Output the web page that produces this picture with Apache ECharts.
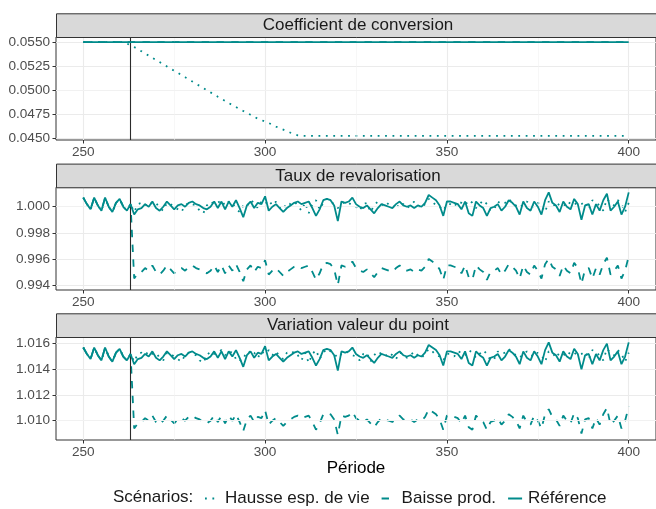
<!DOCTYPE html>
<html>
<head>
<meta charset="utf-8">
<script src="https://cdn.jsdelivr.net/npm/echarts@6/dist/echarts.min.js"></script>
<style>
html,body{margin:0;padding:0;background:#fff;}
#chart{width:656px;height:509px;}
</style>
</head>
<body>
<div id="chart"></div>
<script>
// ---------------- DATA ----------------
const startPeriod = 250; // periods 250..400, one value per period
const xTicks = [250, 300, 350, 400];
const xMinor = [275, 325, 375];
const shockPeriod = 263;

const seriesNames = ['Hausse esp. de vie', 'Baisse prod.', 'Référence'];
const panelTitles = ['Coefficient de conversion', 'Taux de revalorisation', 'Variation valeur du point'];

// Panel 1 : Coefficient de conversion
const coefRef = [
0.0550,0.0550,0.0550,0.0550,0.0550,0.0550,0.0550,0.0550,0.0550,0.0550,
0.0550,0.0550,0.0550,0.0550,0.0550,0.0550,0.0550,0.0550,0.0550,0.0550,
0.0550,0.0550,0.0550,0.0550,0.0550,0.0550,0.0550,0.0550,0.0550,0.0550,
0.0550,0.0550,0.0550,0.0550,0.0550,0.0550,0.0550,0.0550,0.0550,0.0550,
0.0550,0.0550,0.0550,0.0550,0.0550,0.0550,0.0550,0.0550,0.0550,0.0550,
0.0550,0.0550,0.0550,0.0550,0.0550,0.0550,0.0550,0.0550,0.0550,0.0550,
0.0550,0.0550,0.0550,0.0550,0.0550,0.0550,0.0550,0.0550,0.0550,0.0550,
0.0550,0.0550,0.0550,0.0550,0.0550,0.0550,0.0550,0.0550,0.0550,0.0550,
0.0550,0.0550,0.0550,0.0550,0.0550,0.0550,0.0550,0.0550,0.0550,0.0550,
0.0550,0.0550,0.0550,0.0550,0.0550,0.0550,0.0550,0.0550,0.0550,0.0550,
0.0550,0.0550,0.0550,0.0550,0.0550,0.0550,0.0550,0.0550,0.0550,0.0550,
0.0550,0.0550,0.0550,0.0550,0.0550,0.0550,0.0550,0.0550,0.0550,0.0550,
0.0550,0.0550,0.0550,0.0550,0.0550,0.0550,0.0550,0.0550,0.0550,0.0550,
0.0550,0.0550,0.0550,0.0550,0.0550,0.0550,0.0550,0.0550,0.0550,0.0550,
0.0550,0.0550,0.0550,0.0550,0.0550,0.0550,0.0550,0.0550,0.0550,0.0550,
0.0550];
const coefBaisse = [
0.0550,0.0550,0.0550,0.0550,0.0550,0.0550,0.0550,0.0550,0.0550,0.0550,
0.0550,0.0550,0.0550,0.0550,0.0550,0.0550,0.0550,0.0550,0.0550,0.0550,
0.0550,0.0550,0.0550,0.0550,0.0550,0.0550,0.0550,0.0550,0.0550,0.0550,
0.0550,0.0550,0.0550,0.0550,0.0550,0.0550,0.0550,0.0550,0.0550,0.0550,
0.0550,0.0550,0.0550,0.0550,0.0550,0.0550,0.0550,0.0550,0.0550,0.0550,
0.0550,0.0550,0.0550,0.0550,0.0550,0.0550,0.0550,0.0550,0.0550,0.0550,
0.0550,0.0550,0.0550,0.0550,0.0550,0.0550,0.0550,0.0550,0.0550,0.0550,
0.0550,0.0550,0.0550,0.0550,0.0550,0.0550,0.0550,0.0550,0.0550,0.0550,
0.0550,0.0550,0.0550,0.0550,0.0550,0.0550,0.0550,0.0550,0.0550,0.0550,
0.0550,0.0550,0.0550,0.0550,0.0550,0.0550,0.0550,0.0550,0.0550,0.0550,
0.0550,0.0550,0.0550,0.0550,0.0550,0.0550,0.0550,0.0550,0.0550,0.0550,
0.0550,0.0550,0.0550,0.0550,0.0550,0.0550,0.0550,0.0550,0.0550,0.0550,
0.0550,0.0550,0.0550,0.0550,0.0550,0.0550,0.0550,0.0550,0.0550,0.0550,
0.0550,0.0550,0.0550,0.0550,0.0550,0.0550,0.0550,0.0550,0.0550,0.0550,
0.0550,0.0550,0.0550,0.0550,0.0550,0.0550,0.0550,0.0550,0.0550,0.0550,
0.0550];
const coefHausse = [
0.0550,0.0550,0.0550,0.0550,0.0550,0.0550,0.0550,0.0550,0.0550,0.0550,
0.0550,0.0550,0.05485,0.05467,0.05449,0.05427,0.05405,0.05382,0.05360,0.05337,
0.05315,0.05293,0.05270,0.05248,0.05225,0.05203,0.05181,0.05158,0.05136,0.05113,
0.05091,0.05069,0.05046,0.05024,0.05001,0.04979,0.04957,0.04934,0.04912,0.04890,
0.04867,0.04848,0.04827,0.04805,0.04786,0.04767,0.04746,0.04725,0.04706,0.04691,
0.04676,0.04661,0.04643,0.04624,0.04606,0.04592,0.04577,0.04560,0.04544,0.04533,
0.04529,0.04528,0.04528,0.04528,0.04528,0.04528,0.04528,0.04528,0.04528,0.04528,
0.04528,0.04528,0.04528,0.04528,0.04528,0.04528,0.04528,0.04528,0.04528,0.04528,
0.04528,0.04528,0.04528,0.04528,0.04528,0.04528,0.04528,0.04528,0.04528,0.04528,
0.04528,0.04528,0.04528,0.04528,0.04528,0.04528,0.04528,0.04528,0.04528,0.04528,
0.04528,0.04528,0.04528,0.04528,0.04528,0.04528,0.04528,0.04528,0.04528,0.04528,
0.04528,0.04528,0.04528,0.04528,0.04528,0.04528,0.04528,0.04528,0.04528,0.04528,
0.04528,0.04528,0.04528,0.04528,0.04528,0.04528,0.04528,0.04528,0.04528,0.04528,
0.04528,0.04528,0.04528,0.04528,0.04528,0.04528,0.04528,0.04528,0.04528,0.04528,
0.04528,0.04528,0.04528,0.04528,0.04528,0.04528,0.04528,0.04528,0.04528,0.04528,
0.04528];

// Panel 2 : Taux de revalorisation
const tauxRef = [
1.0007,1.0002,0.9998,1.0007,1.0001,0.9997,1.0007,1.0000,0.9996,1.0003,
1.0006,1.0000,0.9997,1.0002,0.9994,0.9998,0.9999,1.0002,1.0000,1.0004,
0.9999,0.9997,1.0000,1.0004,1.0001,0.9998,1.0001,1.0002,1.0000,1.0003,
1.0004,1.0002,1.0001,0.9999,0.9998,1.0000,1.0004,0.9999,1.0004,0.9998,
1.0004,1.0000,1.0005,0.9999,0.9992,1.0001,1.0004,0.9999,1.0003,1.0002,
1.0008,0.9997,1.0000,1.0002,0.9999,0.9996,0.9999,1.0001,1.0003,1.0004,
1.0002,1.0003,1.0004,0.9999,0.9993,0.9998,1.0005,1.0006,1.0005,1.0001,
0.9989,1.0004,1.0003,1.0004,1.0007,1.0002,1.0000,0.9999,1.0001,0.9998,
0.9995,0.9999,1.0002,1.0001,1.0000,0.9999,1.0002,1.0004,1.0001,1.0000,
1.0001,0.9999,1.0001,1.0000,1.0003,1.0009,1.0007,1.0005,1.0001,0.9993,
1.0004,1.0004,1.0003,1.0002,0.9998,1.0004,0.9995,0.9993,1.0004,1.0001,
0.9999,0.9993,0.9999,1.0000,1.0002,0.9997,1.0000,1.0005,1.0003,1.0000,
0.9994,1.0004,0.9999,0.9997,1.0004,1.0000,0.9994,1.0005,1.0011,1.0003,
1.0001,0.9996,1.0004,1.0000,0.9998,1.0006,1.0002,0.9990,1.0001,1.0002,
0.9994,1.0002,0.9997,1.0005,1.0010,0.9997,1.0000,1.0004,0.9994,1.0000,
1.0011];
const tauxBaisse = [
1.0007,1.0002,0.9998,1.0007,1.0001,0.9997,1.0007,1.0000,0.9996,1.0003,
1.0006,1.0000,0.9997,1.0002,0.9945,0.9949,0.9950,0.9953,0.9951,0.9955,
0.9950,0.9948,0.9951,0.9955,0.9952,0.9949,0.9952,0.9953,0.9951,0.9954,
0.9955,0.9953,0.9952,0.9950,0.9949,0.9951,0.9955,0.9950,0.9955,0.9949,
0.9955,0.9951,0.9956,0.9950,0.9943,0.9952,0.9955,0.9950,0.9954,0.9953,
0.9959,0.9948,0.9951,0.9953,0.9950,0.9947,0.9950,0.9952,0.9954,0.9955,
0.9953,0.9954,0.9955,0.9950,0.9944,0.9949,0.9956,0.9957,0.9956,0.9952,
0.9940,0.9955,0.9954,0.9955,0.9958,0.9953,0.9951,0.9950,0.9952,0.9949,
0.9946,0.9950,0.9953,0.9952,0.9951,0.9950,0.9953,0.9955,0.9952,0.9951,
0.9952,0.9950,0.9952,0.9951,0.9954,0.9960,0.9958,0.9956,0.9952,0.9944,
0.9955,0.9955,0.9954,0.9953,0.9949,0.9955,0.9946,0.9944,0.9955,0.9952,
0.9950,0.9944,0.9950,0.9951,0.9953,0.9948,0.9951,0.9956,0.9954,0.9951,
0.9945,0.9955,0.9950,0.9948,0.9955,0.9951,0.9945,0.9956,0.9960,0.9954,
0.9952,0.9947,0.9955,0.9951,0.9949,0.9957,0.9953,0.9941,0.9952,0.9953,
0.9945,0.9953,0.9948,0.9956,0.9961,0.9948,0.9951,0.9955,0.9945,0.9951,
0.9962];
const tauxHausse = [
1.0007,1.0002,0.9998,1.0007,1.0001,0.9997,1.0007,1.0000,0.9996,1.0003,
1.0006,1.0000,0.9997,1.0002,0.9996,1.0002,1.0003,1.0001,1.0004,1.0002,
1.0003,0.9999,0.9997,1.0003,1.0002,1.0000,0.9998,0.9996,1.0001,1.0003,
1.0002,1.0001,0.9997,0.9995,1.0001,1.0004,1.0002,1.0003,1.0005,1.0001,
1.0004,1.0003,0.9998,0.9996,1.0001,1.0000,1.0005,1.0003,0.9999,1.0004,
1.0002,1.0005,1.0001,1.0004,1.0000,0.9998,1.0003,1.0002,1.0004,1.0001,
0.9997,1.0003,0.9995,1.0002,1.0005,0.9998,1.0003,1.0006,1.0004,1.0002,
0.9999,1.0002,1.0004,1.0003,1.0001,1.0000,0.9997,1.0002,1.0003,0.9996,
1.0001,1.0004,1.0002,1.0000,1.0003,1.0001,0.9998,1.0003,1.0002,0.9999,
1.0001,1.0004,1.0001,0.9999,1.0002,1.0006,1.0004,1.0001,1.0000,0.9997,
1.0002,1.0002,1.0000,1.0004,1.0003,1.0001,1.0005,1.0003,0.9999,1.0002,
1.0005,1.0002,0.9997,0.9998,1.0004,1.0002,1.0003,1.0006,1.0003,1.0001,
0.9999,1.0002,1.0004,1.0001,1.0000,1.0003,1.0001,0.9996,1.0004,1.0003,
0.9999,1.0003,1.0002,1.0000,1.0004,1.0003,1.0001,1.0002,1.0004,0.9998,
1.0005,1.0003,1.0001,0.9997,1.0006,1.0003,1.0001,1.0005,1.0002,0.9996,
1.0003];

// Panel 3 : Variation valeur du point
const valRef = [
1.0157,1.0152,1.0148,1.0157,1.0151,1.0147,1.0157,1.0150,1.0146,1.0153,
1.0156,1.0150,1.0147,1.0152,1.0144,1.0148,1.0149,1.0152,1.0150,1.0154,
1.0149,1.0147,1.0150,1.0154,1.0151,1.0148,1.0151,1.0152,1.0150,1.0153,
1.0154,1.0152,1.0151,1.0149,1.0148,1.0150,1.0154,1.0149,1.0154,1.0148,
1.0154,1.0150,1.0155,1.0149,1.0142,1.0151,1.0154,1.0149,1.0153,1.0152,
1.0158,1.0147,1.0150,1.0152,1.0149,1.0146,1.0149,1.0151,1.0153,1.0154,
1.0152,1.0153,1.0154,1.0149,1.0143,1.0148,1.0155,1.0156,1.0155,1.0151,
1.0139,1.0154,1.0153,1.0154,1.0157,1.0152,1.0150,1.0149,1.0151,1.0148,
1.0145,1.0149,1.0152,1.0151,1.0150,1.0149,1.0152,1.0154,1.0151,1.0150,
1.0151,1.0149,1.0151,1.0150,1.0153,1.0159,1.0157,1.0155,1.0151,1.0143,
1.0154,1.0154,1.0153,1.0152,1.0148,1.0154,1.0145,1.0143,1.0154,1.0151,
1.0149,1.0143,1.0149,1.0150,1.0152,1.0147,1.0150,1.0155,1.0153,1.0150,
1.0144,1.0154,1.0149,1.0147,1.0154,1.0150,1.0144,1.0155,1.0161,1.0153,
1.0151,1.0146,1.0154,1.0150,1.0148,1.0156,1.0152,1.0140,1.0151,1.0152,
1.0144,1.0152,1.0147,1.0155,1.0160,1.0147,1.0150,1.0154,1.0144,1.0150,
1.0161];
const valBaisse = [
1.0157,1.0152,1.0148,1.0157,1.0151,1.0147,1.0157,1.0150,1.0146,1.0153,
1.0156,1.0150,1.0147,1.0152,1.0094,1.0098,1.0099,1.0102,1.0100,1.0104,
1.0099,1.0097,1.0100,1.0104,1.0101,1.0098,1.0101,1.0102,1.0100,1.0103,
1.0104,1.0102,1.0101,1.0099,1.0098,1.0100,1.0104,1.0099,1.0104,1.0098,
1.0104,1.0100,1.0105,1.0099,1.0092,1.0101,1.0104,1.0099,1.0103,1.0102,
1.0108,1.0097,1.0100,1.0102,1.0099,1.0096,1.0099,1.0101,1.0103,1.0104,
1.0102,1.0103,1.0104,1.0099,1.0093,1.0098,1.0105,1.0106,1.0105,1.0101,
1.0089,1.0104,1.0103,1.0104,1.0107,1.0102,1.0100,1.0099,1.0101,1.0098,
1.0095,1.0099,1.0102,1.0101,1.0100,1.0099,1.0102,1.0104,1.0101,1.0100,
1.0101,1.0099,1.0101,1.0100,1.0103,1.0109,1.0107,1.0105,1.0101,1.0093,
1.0104,1.0104,1.0103,1.0102,1.0098,1.0104,1.0095,1.0093,1.0104,1.0101,
1.0099,1.0093,1.0099,1.0100,1.0102,1.0097,1.0100,1.0105,1.0103,1.0100,
1.0094,1.0104,1.0099,1.0097,1.0104,1.0100,1.0094,1.0105,1.0109,1.0103,
1.0101,1.0096,1.0104,1.0100,1.0098,1.0106,1.0102,1.0090,1.0101,1.0102,
1.0094,1.0102,1.0097,1.0105,1.0110,1.0097,1.0100,1.0104,1.0094,1.0100,
1.0111];
const valHausse = [
1.0157,1.0152,1.0148,1.0157,1.0151,1.0147,1.0157,1.0150,1.0146,1.0153,
1.0156,1.0150,1.0147,1.0152,1.0146,1.0152,1.0153,1.0151,1.0154,1.0152,
1.0153,1.0149,1.0147,1.0153,1.0152,1.0150,1.0148,1.0146,1.0151,1.0153,
1.0152,1.0151,1.0147,1.0145,1.0151,1.0154,1.0152,1.0153,1.0155,1.0151,
1.0154,1.0153,1.0148,1.0146,1.0151,1.0150,1.0155,1.0153,1.0149,1.0154,
1.0152,1.0155,1.0151,1.0154,1.0150,1.0148,1.0153,1.0152,1.0154,1.0151,
1.0147,1.0153,1.0145,1.0152,1.0155,1.0148,1.0153,1.0156,1.0154,1.0152,
1.0149,1.0152,1.0154,1.0153,1.0151,1.0150,1.0147,1.0152,1.0153,1.0146,
1.0151,1.0154,1.0152,1.0150,1.0153,1.0151,1.0148,1.0153,1.0152,1.0149,
1.0151,1.0154,1.0151,1.0149,1.0152,1.0156,1.0154,1.0151,1.0150,1.0147,
1.0152,1.0152,1.0150,1.0154,1.0153,1.0151,1.0155,1.0153,1.0149,1.0152,
1.0155,1.0152,1.0147,1.0148,1.0154,1.0152,1.0153,1.0156,1.0153,1.0151,
1.0149,1.0152,1.0154,1.0151,1.0150,1.0153,1.0151,1.0146,1.0154,1.0153,
1.0149,1.0153,1.0152,1.0150,1.0154,1.0153,1.0151,1.0152,1.0154,1.0148,
1.0155,1.0153,1.0151,1.0147,1.0156,1.0153,1.0151,1.0155,1.0152,1.0146,
1.0153];

// y axis ticks (major / minor) per panel
const yTicks = [
  [0.0450, 0.0475, 0.0500, 0.0525, 0.0550],
  [0.994, 0.996, 0.998, 1.000],
  [1.010, 1.012, 1.014, 1.016]
];
const yMinor = [
  [0.04625, 0.04875, 0.05125, 0.05375],
  [0.995, 0.997, 0.999, 1.001],
  [1.009, 1.011, 1.013, 1.015]
];
const yRange = [[0.04485, 0.05553], [0.99362, 1.00149], [1.0085, 1.01652]];
const yDecimals = [4, 3, 3];

// ---------------- CHART ----------------
const TEAL = '#008B8B';
const FONT = '"Liberation Sans", Arial, Helvetica, sans-serif';
const panels = [
  [coefHausse, coefBaisse, coefRef],
  [tauxHausse, tauxBaisse, tauxRef],
  [valHausse, valBaisse, valRef]
];
const gridTops = [37, 187.3, 337];
const gridH = 103;
const gridLeft = 56, gridW = 604;
const stripH = 23.7;

const lineTypes = [[1.8, 5.6], [7.4, 7.4], 'solid'];

function toPairs(arr) { return arr.map((v, i) => [startPeriod + i, v]); }

const grids = [], xAxes = [], yAxes = [], series = [], graphics = [];
panels.forEach((p, gi) => {
  grids.push({
    left: gridLeft, top: gridTops[gi], width: gridW, height: gi === 1 ? 102.7 : gridH,
    show: true, borderColor: '#333333', borderWidth: 1, backgroundColor: '#FFFFFF'
  });
  xAxes.push({
    gridIndex: gi, type: 'value', min: 242.5, max: 407.5,
    name: gi === 2 ? 'Période' : '',
    nameLocation: 'middle', nameGap: 17,
    nameTextStyle: { color: '#000000', fontSize: 17, fontFamily: FONT },
    axisLine: { show: false },
    axisTick: { show: true, length: 3.5, lineStyle: { color: '#333333', width: 1 }, customValues: xTicks },
    axisLabel: { customValues: xTicks, color: '#4D4D4D', fontSize: 13.6, fontFamily: FONT, margin: 5 },
    splitLine: { show: true, lineStyle: { color: '#EBEBEB', width: 1.1 } }
  });
  yAxes.push({
    gridIndex: gi, type: 'value', min: yRange[gi][0], max: yRange[gi][1],
    axisLine: { show: false },
    axisTick: { show: true, length: 3.5, lineStyle: { color: '#333333', width: 1 }, customValues: yTicks[gi] },
    axisLabel: { customValues: yTicks[gi], color: '#4D4D4D', fontSize: 13.6, fontFamily: FONT, margin: 6,
      formatter: v => Number(v).toFixed(yDecimals[gi]) },
    splitLine: { show: true, lineStyle: { color: '#EBEBEB', width: 1.1 } }
  });
  // minor grid lines
  const minorData = xMinor.map(v => ({ xAxis: v })).concat(yMinor[gi].map(v => ({ yAxis: v })));
  series.push({
    type: 'line', xAxisIndex: gi, yAxisIndex: gi, data: [], silent: true, z: 1,
    markLine: { silent: true, symbol: 'none', animation: false, label: { show: false },
      lineStyle: { color: '#F2F2F2', width: 0.6, type: 'solid' }, data: minorData }
  });
  p.forEach((arr, si) => {
    const s = {
      name: seriesNames[si], type: 'line', xAxisIndex: gi, yAxisIndex: gi,
      data: toPairs(arr), showSymbol: false, symbol: 'none', z: 3 + si,
      lineStyle: { color: TEAL, width: 1.8, type: lineTypes[si], cap: 'butt' },
      itemStyle: { color: TEAL }
    };
    if (si === 2) {
      s.markLine = { silent: true, symbol: 'none', animation: false, label: { show: false },
        lineStyle: { color: '#2B2B2B', width: 1.1, type: 'solid' }, data: [{ xAxis: shockPeriod }] };
    }
    series.push(s);
  });
  // facet strip
  const sy = gridTops[gi] - stripH;
  graphics.push({
    type: 'rect', left: gridLeft, top: sy, silent: true,
    shape: { x: 0, y: 0, width: gridW, height: stripH },
    style: { fill: '#D9D9D9', stroke: '#333333', lineWidth: 1 }, z: 10
  });
  graphics.push({
    type: 'text', x: gridLeft + gridW / 2, y: sy + stripH / 2 + 0.5, silent: true, z: 11,
    style: { text: panelTitles[gi], fill: '#1A1A1A', font: '17px ' + FONT, textAlign: 'center', textVerticalAlign: 'middle' }
  });
});

graphics.push({
  type: 'text', x: 113, y: 497.5, silent: true,
  style: { text: 'Scénarios:', fill: '#1A1A1A', font: '17px ' + FONT, textAlign: 'left', textVerticalAlign: 'middle' }
});

const chart = echarts.init(document.getElementById('chart'), null, { renderer: 'canvas' });
chart.setOption({
  animation: false,
  backgroundColor: '#FFFFFF',
  grid: grids, xAxis: xAxes, yAxis: yAxes, series: series,
  legend: {
    data: seriesNames, left: 204, top: 490, padding: 0, itemWidth: 14, itemHeight: 14, itemGap: 11,
    itemStyle: { color: 'rgba(0,0,0,0)', borderWidth: 0 },
    textStyle: { color: '#1A1A1A', fontSize: 17, fontFamily: FONT, padding: [0, 0, 0, 1] },
    selectedMode: false
  },
  graphic: graphics
});
</script>
</body>
</html>
